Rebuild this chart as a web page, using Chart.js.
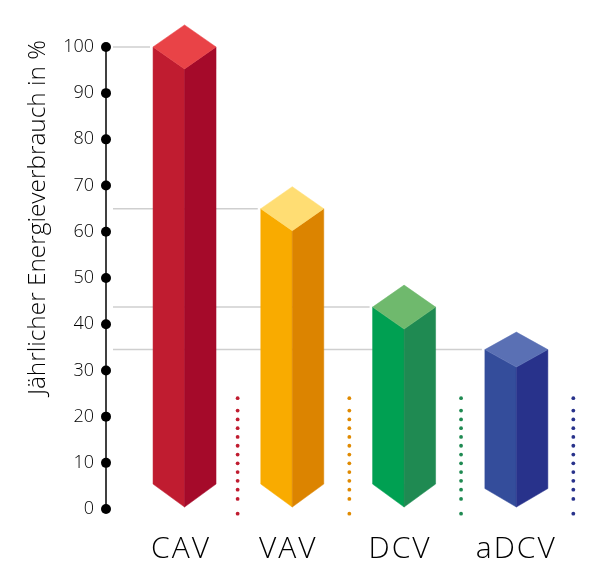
<!DOCTYPE html>
<html>
<head>
<meta charset="utf-8">
<script src="https://cdn.jsdelivr.net/npm/chart.js@4"></script>
<style>
  html, body { margin: 0; padding: 0; background: #fff; }
  canvas { display: block; }
</style>
</head>
<body>
<canvas id="chart" width="600" height="580"></canvas>
<script>
const categories = ['CAV', 'VAV', 'DCV', 'aDCV'];
const energyUse = [100, 65, 43.7, 34.5];
const yTitle = 'Jährlicher Energieverbrauch in %';

// where things sit on the x axis (1 unit = one bar step)
const barSlots = [0, 0.974, 1.985, 3];
const labelSlots = [-0.032, 0.938, 1.949, 2.999];
const separatorSlots = [0.48, 1.49, 2.5, 3.515];
const separatorLevels = [24, 21.3, 19.4, 17.5, 15.6, 13.7, 11.8, 9.9, 8, 6.1, 4.2, 2.2, -1];

const frontColors = ['#c01c30', '#f9ab00', '#00a052', '#344d9b'];
const sideColors = ['#a50a2a', '#dc8400', '#1f8a52', '#28328b'];
const topColors = ['#e94347', '#ffdd73', '#6fb96d', '#5a70b4'];
const dotColors = ['#c01c30', '#e08a00', '#1f8a52', '#28328b'];
const capDepth = [22, 22, 22, 17.5];

function poly(ctx, color, pts) {
  ctx.fillStyle = color;
  ctx.strokeStyle = color;
  ctx.lineWidth = 0.5;
  ctx.beginPath();
  pts.forEach((p, i) => i ? ctx.lineTo(p[0], p[1]) : ctx.moveTo(p[0], p[1]));
  ctx.closePath();
  ctx.fill();
  ctx.stroke();
}

const isoBars = {
  id: 'isoBars',
  beforeDatasetsDraw(chart) {
    const { ctx, scales: { y } } = chart;
    // axis line
    ctx.save();
    ctx.strokeStyle = '#000';
    ctx.lineWidth = 1.5;
    ctx.beginPath();
    ctx.moveTo(y.right, y.getPixelForValue(100));
    ctx.lineTo(y.right, y.getPixelForValue(0));
    ctx.stroke();
    // grey lines from the axis to each bar
    ctx.strokeStyle = '#cfcfcf';
    chart.getDatasetMeta(0).data.forEach(bar => {
      ctx.beginPath();
      ctx.moveTo(y.right + 7, bar.y);
      ctx.lineTo(bar.x - bar.width / 2 - 3, bar.y);
      ctx.stroke();
    });
    // axis dots
    ctx.fillStyle = '#000';
    y.ticks.forEach(t => {
      ctx.beginPath();
      ctx.arc(y.right, y.getPixelForValue(t.value), 5, 0, Math.PI * 2);
      ctx.fill();
    });
    ctx.restore();
  },
  beforeDatasetDraw(chart, args) {
    if (args.index !== 0) return;
    const ctx = chart.ctx;
    ctx.save();
    args.meta.data.forEach((bar, i) => {
      const half = bar.width / 2, l = bar.x - half, r = bar.x + half;
      const d = capDepth[i], tip = bar.base - 2, low = tip - d - 1;
      poly(ctx, bar.options.backgroundColor, [[l, bar.y], [bar.x, bar.y + d], [bar.x, tip], [l, low]]);
      poly(ctx, sideColors[i], [[bar.x, bar.y + d], [r, bar.y], [r, low], [bar.x, tip]]);
      poly(ctx, topColors[i], [[l, bar.y], [bar.x, bar.y - d], [r, bar.y], [bar.x, bar.y + d]]);
    });
    ctx.restore();
    return false;
  },
  // x tick labels are on a layer above the datasets, so the spacing only reaches them
  afterDatasetsDraw(chart) { chart.ctx.letterSpacing = '2px'; },
  afterDraw(chart) { chart.ctx.letterSpacing = '0px'; }
};

const separators = separatorSlots.map((slot, i) => ({
  type: 'scatter',
  data: separatorLevels.map(v => ({ x: slot, y: v })),
  pointRadius: 1.9,
  pointBorderWidth: 0,
  pointBackgroundColor: dotColors[i],
  clip: false
}));

new Chart(document.getElementById('chart'), {
  type: 'bar',
  data: {
    labels: categories,
    datasets: [{
      data: energyUse.map((v, i) => ({ x: barSlots[i], y: v })),
      backgroundColor: frontColors,
      barThickness: 63
    }, ...separators]
  },
  plugins: [isoBars],
  options: {
    responsive: false,
    animation: false,
    layout: { padding: { top: 40 } },
    plugins: { legend: { display: false }, tooltip: { enabled: false } },
    scales: {
      x: {
        type: 'linear',
        offset: false,
        min: -0.71,
        max: 3.72,
        grid: { display: false },
        border: { display: false },
        afterFit(s) { s.height = 61.7; },
        afterBuildTicks(s) { s.ticks = labelSlots.map(v => ({ value: v })); },
        ticks: {
          autoSkip: false,
          maxRotation: 0,
          z: 1,
          padding: 5,
          color: '#000',
          font: { family: '"Open Sans"', size: 30, weight: '300' },
          callback: (v, i) => categories[i]
        }
      },
      y: {
        min: -2,
        max: 101.5,
        grid: { display: false },
        border: { display: false },
        afterFit(s) { s.width = 106; },
        title: {
          display: true,
          text: yTitle,
          align: 'end',
          color: '#000',
          padding: { top: 23, bottom: 0 },
          font: { family: '"Open Sans"', size: 24.4, weight: '300' }
        },
        ticks: {
          stepSize: 10,
          includeBounds: false,
          padding: 4,
          color: '#000',
          font: { family: '"Open Sans"', size: 18, weight: '300' }
        }
      }
    }
  }
});
</script>
</body>
</html>
